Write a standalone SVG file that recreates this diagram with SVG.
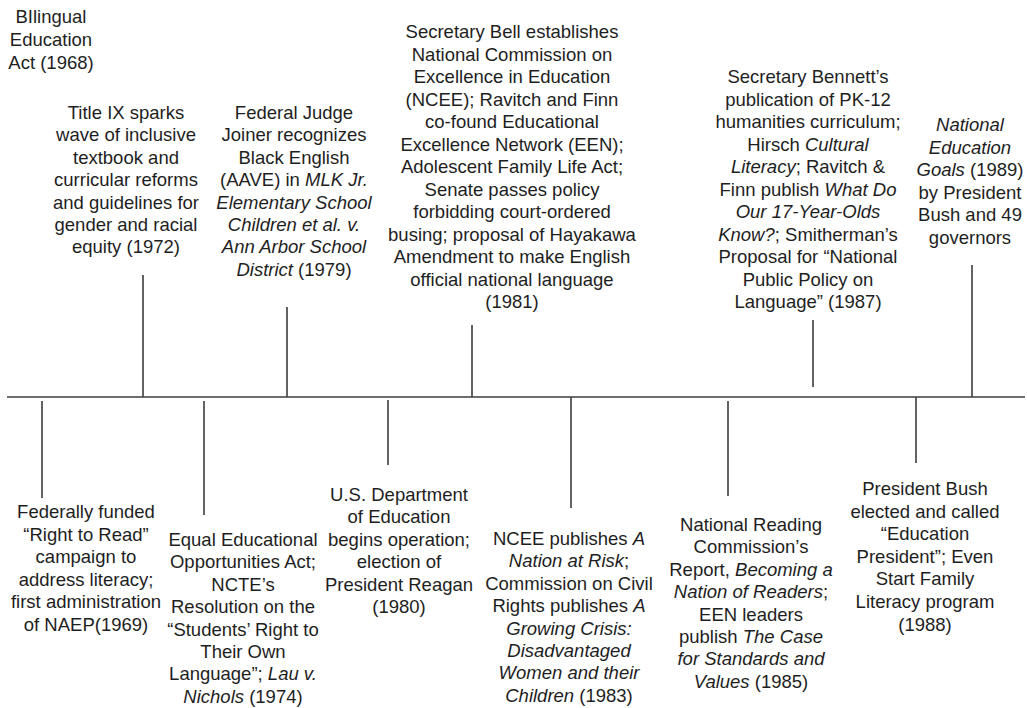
<svg xmlns="http://www.w3.org/2000/svg" width="1027" height="708" viewBox="0 0 1027 708">
<style>
.t{font-family:"Liberation Sans",Arial,sans-serif;font-size:18.5px;fill:#1e1e1e;text-anchor:middle}
.i{font-style:italic}
.c line{stroke:#3c3c3c;stroke-width:1.6}
</style>
<rect width="1027" height="708" fill="#ffffff"/>
<g class="c" id="connectors">
<line x1="7" y1="397" x2="1025" y2="397"/>
<line x1="143" y1="275" x2="143" y2="397"/>
<line x1="287" y1="307" x2="287" y2="397"/>
<line x1="472" y1="325" x2="472" y2="397"/>
<line x1="813" y1="320" x2="813" y2="387"/>
<line x1="972" y1="265" x2="972" y2="397"/>
<line x1="42" y1="401" x2="42" y2="498"/>
<line x1="204" y1="401" x2="204" y2="515"/>
<line x1="388" y1="400" x2="388" y2="465"/>
<line x1="571" y1="397" x2="571" y2="508"/>
<line x1="728" y1="401" x2="728" y2="496"/>
<line x1="916" y1="397" x2="916" y2="463"/>
</g>
<g id="e1968"><text class="t" y="23"><tspan x="51">BIlingual</tspan><tspan x="51" dy="23">Education</tspan><tspan x="51" dy="23">Act (1968)</tspan></text></g>
<g id="e1972"><text class="t" y="119"><tspan x="126">Title IX sparks</tspan><tspan x="126" dy="22.4">wave of inclusive</tspan><tspan x="126" dy="22.4">textbook and</tspan><tspan x="126" dy="22.4">curricular reforms</tspan><tspan x="126" dy="22.4">and guidelines for</tspan><tspan x="126" dy="22.4">gender and racial</tspan><tspan x="126" dy="22.4">equity (1972)</tspan></text></g>
<g id="e1979"><text class="t" y="119"><tspan x="294">Federal Judge</tspan><tspan x="294" dy="22.4">Joiner recognizes</tspan><tspan x="294" dy="22.4">Black English</tspan><tspan x="294" dy="22.4">(AAVE) in <tspan class="i">MLK Jr.</tspan></tspan><tspan x="294" dy="22.4" class="i">Elementary School</tspan><tspan x="294" dy="22.4" class="i">Children et al. v.</tspan><tspan x="294" dy="22.4" class="i">Ann Arbor School</tspan><tspan x="294" dy="22.4"><tspan class="i">District</tspan> (1979)</tspan></text></g>
<g id="e1981"><text class="t" y="38"><tspan x="512">Secretary Bell establishes</tspan><tspan x="512" dy="22.5">National Commission on</tspan><tspan x="512" dy="22.5">Excellence in Education</tspan><tspan x="512" dy="22.5">(NCEE); Ravitch and Finn</tspan><tspan x="512" dy="22.5">co-found Educational</tspan><tspan x="512" dy="22.5">Excellence Network (EEN);</tspan><tspan x="512" dy="22.5">Adolescent Family Life Act;</tspan><tspan x="512" dy="22.5">Senate passes policy</tspan><tspan x="512" dy="22.5">forbidding court-ordered</tspan><tspan x="512" dy="22.5">busing; proposal of Hayakawa</tspan><tspan x="512" dy="22.5">Amendment to make English</tspan><tspan x="512" dy="22.5">official national language</tspan><tspan x="512" dy="22.5">(1981)</tspan></text></g>
<g id="e1987"><text class="t" y="83"><tspan x="808">Secretary Bennett’s</tspan><tspan x="808" dy="22.5">publication of PK-12</tspan><tspan x="808" dy="22.5">humanities curriculum;</tspan><tspan x="808" dy="22.5">Hirsch <tspan class="i">Cultural</tspan></tspan><tspan x="808" dy="22.5"><tspan class="i">Literacy</tspan>; Ravitch &amp;</tspan><tspan x="808" dy="22.5">Finn publish <tspan class="i">What Do</tspan></tspan><tspan x="808" dy="22.5" class="i">Our 17-Year-Olds</tspan><tspan x="808" dy="22.5"><tspan class="i">Know?</tspan>; Smitherman’s</tspan><tspan x="808" dy="22.5">Proposal for “National</tspan><tspan x="808" dy="22.5">Public Policy on</tspan><tspan x="808" dy="22.5">Language”  (1987)</tspan></text></g>
<g id="e1989"><text class="t" y="131"><tspan x="970" class="i">National</tspan><tspan x="970" dy="22.6" class="i">Education</tspan><tspan x="970" dy="22.6"><tspan class="i">Goals</tspan> (1989)</tspan><tspan x="970" dy="22.6">by President</tspan><tspan x="970" dy="22.6">Bush and 49</tspan><tspan x="970" dy="22.6">governors</tspan></text></g>
<g id="e1969"><text class="t" y="518"><tspan x="86">Federally funded</tspan><tspan x="86" dy="22.6">“Right to Read”</tspan><tspan x="86" dy="22.6">campaign to</tspan><tspan x="86" dy="22.6">address literacy;</tspan><tspan x="86" dy="22.6">first administration</tspan><tspan x="86" dy="22.6">of NAEP(1969)</tspan></text></g>
<g id="e1974"><text class="t" y="546"><tspan x="243">Equal Educational</tspan><tspan x="243" dy="22.4">Opportunities Act;</tspan><tspan x="243" dy="22.4">NCTE’s</tspan><tspan x="243" dy="22.4">Resolution on the</tspan><tspan x="243" dy="22.4">“Students’ Right to</tspan><tspan x="243" dy="22.4">Their Own</tspan><tspan x="243" dy="22.4">Language”; <tspan class="i">Lau v.</tspan></tspan><tspan x="243" dy="22.4"><tspan class="i">Nichols</tspan> (1974)</tspan></text></g>
<g id="e1980"><text class="t" y="501"><tspan x="399">U.S. Department</tspan><tspan x="399" dy="22.4">of Education</tspan><tspan x="399" dy="22.4">begins operation;</tspan><tspan x="399" dy="22.4">election of</tspan><tspan x="399" dy="22.4">President Reagan</tspan><tspan x="399" dy="22.4">(1980)</tspan></text></g>
<g id="e1983"><text class="t" y="545"><tspan x="569">NCEE publishes <tspan class="i">A</tspan></tspan><tspan x="569" dy="22.4"><tspan class="i">Nation at Risk</tspan>;</tspan><tspan x="569" dy="22.4">Commission on Civil</tspan><tspan x="569" dy="22.4">Rights publishes <tspan class="i">A</tspan></tspan><tspan x="569" dy="22.4" class="i">Growing Crisis:</tspan><tspan x="569" dy="22.4" class="i">Disadvantaged</tspan><tspan x="569" dy="22.4" class="i">Women and their</tspan><tspan x="569" dy="22.4"><tspan class="i">Children</tspan> (1983)</tspan></text></g>
<g id="e1985"><text class="t" y="531"><tspan x="751">National Reading</tspan><tspan x="751" dy="22.4">Commission’s</tspan><tspan x="751" dy="22.4">Report, <tspan class="i">Becoming a</tspan></tspan><tspan x="751" dy="22.4"><tspan class="i">Nation of Readers</tspan>;</tspan><tspan x="751" dy="22.4">EEN leaders</tspan><tspan x="751" dy="22.4">publish <tspan class="i">The Case</tspan></tspan><tspan x="751" dy="22.4" class="i">for Standards and</tspan><tspan x="751" dy="22.4"><tspan class="i">Values</tspan> (1985)</tspan></text></g>
<g id="e1988"><text class="t" y="495"><tspan x="925">President Bush</tspan><tspan x="925" dy="22.6">elected and called</tspan><tspan x="925" dy="22.6">“Education</tspan><tspan x="925" dy="22.6">President”; Even</tspan><tspan x="925" dy="22.6">Start Family</tspan><tspan x="925" dy="22.6">Literacy program</tspan><tspan x="925" dy="22.6">(1988)</tspan></text></g>
</svg>
